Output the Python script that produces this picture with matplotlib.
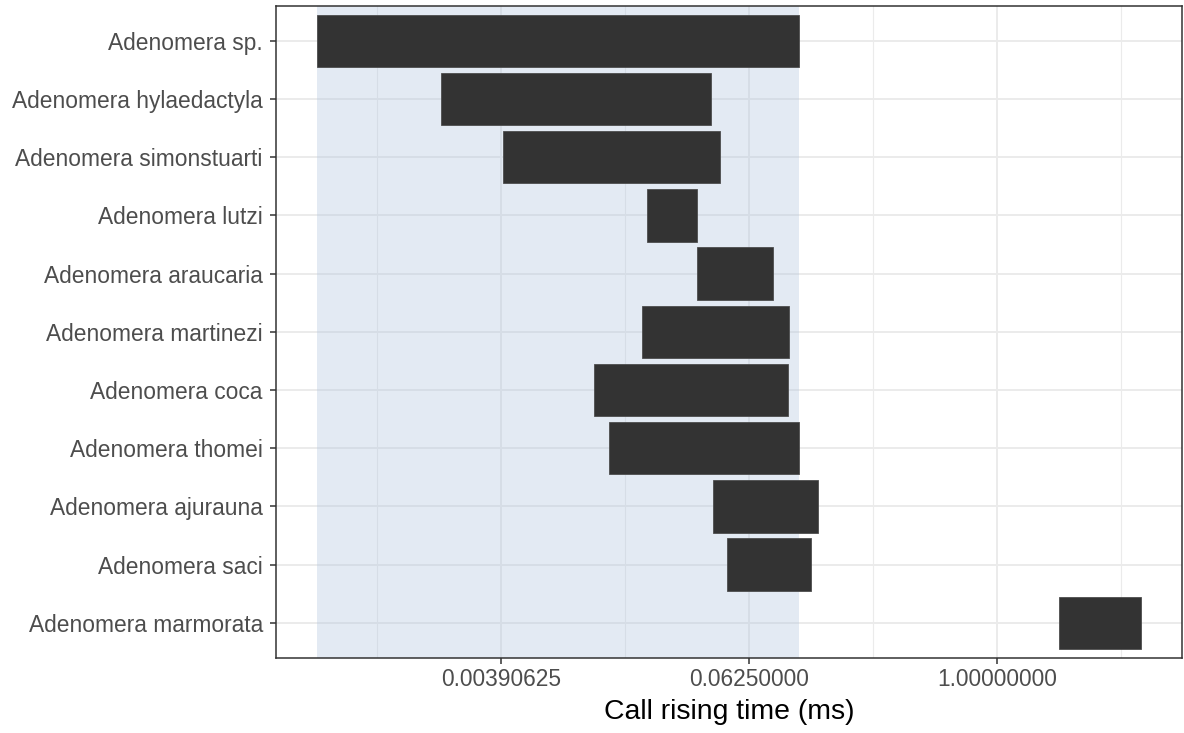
import numpy as np
import matplotlib
matplotlib.use("Agg")
import matplotlib.pyplot as plt
from matplotlib.ticker import FixedLocator, NullFormatter

plt.rcParams['font.family'] = ['Liberation Sans', 'DejaVu Sans']

# Species, from top to bottom
species = [
    "Adenomera sp.",
    "Adenomera hylaedactyla",
    "Adenomera simonstuarti",
    "Adenomera lutzi",
    "Adenomera araucaria",
    "Adenomera martinezi",
    "Adenomera coca",
    "Adenomera thomei",
    "Adenomera ajurauna",
    "Adenomera saci",
    "Adenomera marmorata",
]
# Call rising time range (ms)
rise_min = [0.0005, 0.002, 0.004, 0.02, 0.035, 0.019, 0.011, 0.013, 0.042, 0.049, 2.0]
rise_max = [0.11, 0.041, 0.045, 0.035, 0.082, 0.098, 0.097, 0.11, 0.136, 0.125, 5.0]

major_ticks = [0.00390625, 0.0625, 1.0]
tick_labels = ["0.00390625", "0.06250000", "1.00000000"]
minor_ticks = [2.0 ** -10, 2.0 ** -6, 2.0 ** -2, 2.0 ** 2]

fig = plt.figure(figsize=(11.84, 7.33), dpi=100)
ax = fig.add_axes([0.2331, 0.1027, 0.7652, 0.8891])

n = len(species)
ypos = np.arange(n)[::-1] + 1  # first species at top

ax.set_xscale('log', base=2)
lmin = np.log2(min(rise_min))
lmax = np.log2(max(rise_max))
pad = 0.05 * (lmax - lmin)
ax.set_xlim(2 ** (lmin - pad), 2 ** (lmax + pad))
ax.set_ylim(0.4, n + 0.6)

# grid (theme_bw style)
ax.set_axisbelow(True)
for x in major_ticks:
    ax.axvline(x, color='#ebebeb', lw=1.4, zorder=0)
for x in minor_ticks:
    ax.axvline(x, color='#ebebeb', lw=0.8, zorder=0)
for y in ypos:
    ax.axhline(y, color='#ebebeb', lw=1.4, zorder=0)

# reference range of Adenomera sp.
ax.axvspan(rise_min[0], rise_max[0], color='#b0c4de', alpha=0.35, lw=0, zorder=1)

# bars for each species' range
for y, lo, hi in zip(ypos, rise_min, rise_max):
    ax.barh(y, hi - lo, left=lo, height=0.9, color='#333333',
            edgecolor='#4d4d4d', linewidth=0.6, zorder=2)

ax.xaxis.set_major_locator(FixedLocator(major_ticks))
ax.set_xticklabels(tick_labels)
ax.xaxis.set_minor_locator(FixedLocator(minor_ticks))
ax.xaxis.set_minor_formatter(NullFormatter())
ax.tick_params(axis='x', which='minor', length=0)

ax.set_yticks(ypos)
ax.set_yticklabels(species)

ax.tick_params(axis='both', which='major', length=4.5, width=1.1, color='#333333',
               labelcolor='#4d4d4d', labelsize=16.4)
ax.tick_params(axis='y', pad=5)
ax.tick_params(axis='x', pad=3)
for s in ax.spines.values():
    s.set_color('#333333')
    s.set_linewidth(1.1)

ax.set_xlabel("Call rising time (ms)", fontsize=20.4, color='black', labelpad=6)

fig.savefig("out.png", dpi=100)
